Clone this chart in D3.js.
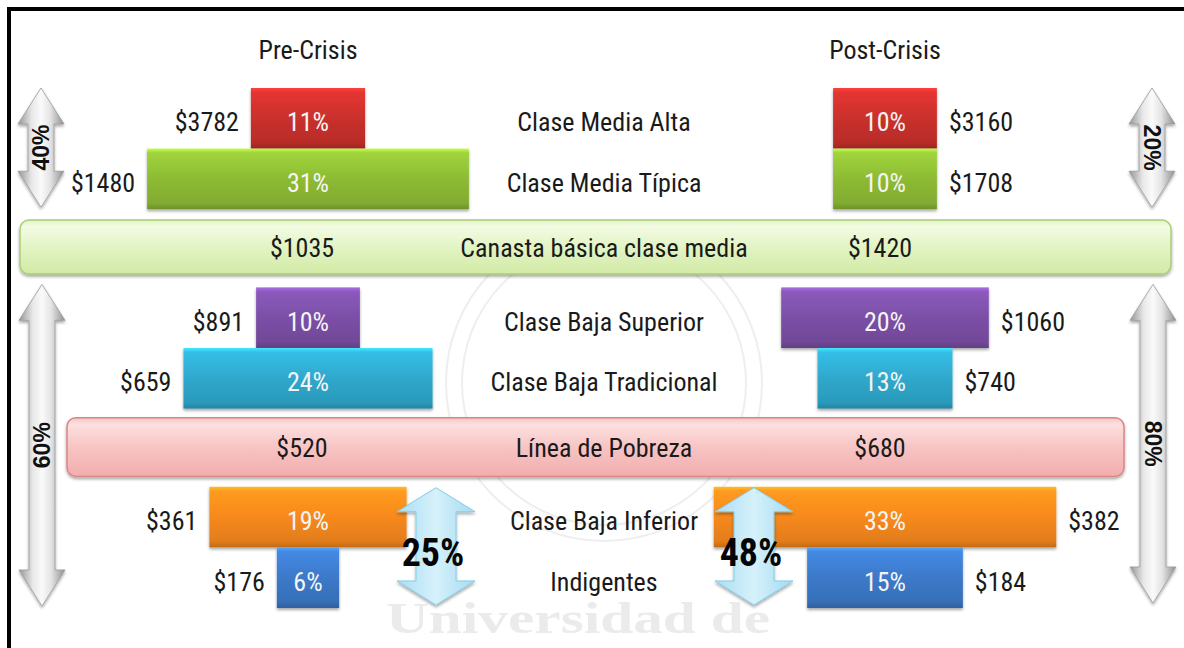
<!DOCTYPE html>
<html><head><meta charset="utf-8">
<script src="https://cdn.jsdelivr.net/npm/d3@7"></script>
<style>
html,body{margin:0;padding:0;background:#fff;}
svg{display:block;}
</style></head>
<body>
<svg id="chart" width="1184" height="648"></svg>
<script>
// ---------------- data ----------------
const categories   = ["Clase Media Alta","Clase Media Típica","Clase Baja Superior","Clase Baja Tradicional","Clase Baja Inferior","Indigentes"];
const prePct       = [11, 31, 10, 24, 19, 6];
const postPct      = [10, 10, 20, 13, 33, 15];
const preIncome    = [3782, 1480, 891, 659, 361, 176];
const postIncome   = [3160, 1708, 1060, 740, 382, 184];
const thresholds   = ["Canasta básica clase media", "Línea de Pobreza"];
const preThreshold = [1035, 520];
const postThreshold= [1420, 680];
const periods      = ["Pre-Crisis", "Post-Crisis"];
const preGroups    = [40, 60];   // upper / lower
const postGroups   = [20, 80];
const belowPoverty = [25, 48];   // pre / post
const watermark    = "Universidad de";

// ---------------- layout ----------------
const W = 1184, H = 648;
const FONT = "'Liberation Sans Narrow','Arial Narrow','Roboto Condensed',sans-serif";
const colors = ["#c9302c", "#8dbb34", "#7b4fa6", "#2fa8cc", "#f7891c", "#3c79c9"];
const rowSlot = [0, 1, 3.29, 4.29, 6.58, 7.58];
const bandSlot = [[2.18, 3.07], [5.44, 6.41]];
const bandX = [[20, 1171], [67, 1124]];
const bandFill = [["#f3fbe3", "#e2f4c4", "#d2eaa6"], ["#fde0e0", "#f8c4c4", "#f2adad"]];
const bandStroke = ["#a9cd78", "#d78686"];

const svg = d3.select("#chart");
const defs = svg.append("defs");

const y = d3.scaleLinear().domain([0, 1]).range([88, 148.6]);
const rowH = y(1) - y(0);
const w = d3.scaleLinear().domain([0, 1]).range([0, 10.38]);
const cx = d3.scaleOrdinal().domain(periods).range([308, 885]);
const midX = 604;

// border
svg.append("rect").attr("x", 7).attr("y", 7).attr("width", W - 7).attr("height", 4).attr("fill", "#000");
svg.append("rect").attr("x", 7).attr("y", 7).attr("width", 4).attr("height", H - 7).attr("fill", "#000");

// shadow filter
const f = defs.append("filter").attr("id", "sh").attr("x", "-10%").attr("y", "-10%").attr("width", "120%").attr("height", "140%");
f.append("feDropShadow").attr("dx", 0).attr("dy", 2).attr("stdDeviation", 1.5).attr("flood-color", "#000").attr("flood-opacity", 0.35);

// watermark
const wm = svg.append("g").attr("fill", "none").attr("stroke", "#eeeeee").attr("stroke-width", 2);
wm.append("circle").attr("cx", midX).attr("cy", 383).attr("r", 158);
wm.append("circle").attr("cx", midX).attr("cy", 383).attr("r", 142);
svg.append("text").attr("x", 386).attr("y", 633).attr("textLength", 384).attr("lengthAdjust", "spacingAndGlyphs")
  .attr("font-family", "'Liberation Serif','DejaVu Serif',serif").attr("font-weight", "bold").attr("font-size", 44)
  .attr("fill", "#ebebeb").text(watermark);

// gradients for bars
colors.forEach((c, i) => {
  const g = defs.append("linearGradient").attr("id", "bar" + i).attr("x1", 0).attr("x2", 0).attr("y1", 0).attr("y2", 1);
  const base = d3.color(c);
  [[0, base.brighter(0.9)], [0.07, base.brighter(0.35)], [0.5, base], [0.9, base.darker(0.25)], [1, base.darker(0.7)]]
    .forEach(([o, col]) => g.append("stop").attr("offset", o).attr("stop-color", col.formatHex()));
});
bandFill.forEach((cs, i) => {
  const g = defs.append("linearGradient").attr("id", "band" + i).attr("x1", 0).attr("x2", 0).attr("y1", 0).attr("y2", 1);
  g.append("stop").attr("offset", 0).attr("stop-color", cs[1]);
  g.append("stop").attr("offset", 0.12).attr("stop-color", cs[0]);
  g.append("stop").attr("offset", 0.5).attr("stop-color", cs[1]);
  g.append("stop").attr("offset", 1).attr("stop-color", cs[2]);
});
const gg = defs.append("linearGradient").attr("id", "grayArrow").attr("x1", 0).attr("x2", 1).attr("y1", 0).attr("y2", 0);
[[0, "#959595"], [0.3, "#e8e8e8"], [0.5, "#fafafa"], [0.7, "#e4e4e4"], [1, "#8f8f8f"]]
  .forEach(([o, c]) => gg.append("stop").attr("offset", o).attr("stop-color", c));
const bg = defs.append("linearGradient").attr("id", "blueArrow").attr("x1", 0).attr("x2", 1).attr("y1", 0).attr("y2", 0);
[[0, "#a9def3"], [0.5, "#d6f1fb"], [1, "#a3dbf1"]]
  .forEach(([o, c]) => bg.append("stop").attr("offset", o).attr("stop-color", c));

// headers
svg.selectAll("text.hdr").data(periods).join("text").attr("class", "hdr")
  .attr("x", d => cx(d)).attr("y", 59).attr("text-anchor", "middle")
  .attr("font-family", FONT).attr("font-size", 26).attr("fill", "#1a1a1a").text(d => d);

// threshold bands
const bands = svg.selectAll("g.band").data(thresholds).join("g").attr("class", "band");
bands.append("rect")
  .attr("x", (d, i) => bandX[i][0]).attr("width", (d, i) => bandX[i][1] - bandX[i][0])
  .attr("y", (d, i) => y(bandSlot[i][0])).attr("height", (d, i) => y(bandSlot[i][1]) - y(bandSlot[i][0]))
  .attr("rx", 9).attr("fill", (d, i) => `url(#band${i})`).attr("stroke", (d, i) => bandStroke[i]).attr("stroke-width", 1.5)
  .attr("filter", "url(#sh)");
const bandMid = i => (y(bandSlot[i][0]) + y(bandSlot[i][1])) / 2 + 10;
bands.append("text").attr("x", midX).attr("y", (d, i) => bandMid(i)).attr("text-anchor", "middle")
  .attr("font-family", FONT).attr("font-size", 26).attr("fill", "#1a1a1a").text(d => d);
bands.append("text").attr("x", cx(periods[0]) - 6).attr("y", (d, i) => bandMid(i)).attr("text-anchor", "middle")
  .attr("font-family", FONT).attr("font-size", 26).attr("fill", "#1a1a1a").text((d, i) => "$" + preThreshold[i]);
bands.append("text").attr("x", cx(periods[1]) - 5).attr("y", (d, i) => bandMid(i)).attr("text-anchor", "middle")
  .attr("font-family", FONT).attr("font-size", 26).attr("fill", "#1a1a1a").text((d, i) => "$" + postThreshold[i]);

// category labels
svg.selectAll("text.cat").data(categories).join("text").attr("class", "cat")
  .attr("x", midX).attr("y", (d, i) => y(rowSlot[i]) + rowH / 2 + 13).attr("text-anchor", "middle")
  .attr("font-family", FONT).attr("font-size", 26).attr("fill", "#1a1a1a").text(d => d);

// bars
function drawSide(pcts, incomes, period, side) {
  const c = cx(period);
  const g = svg.append("g");
  const rows = categories.map((cat, i) => ({ cat, i, p: pcts[i], v: incomes[i] }));
  g.selectAll("rect").data(rows).join("rect")
    .attr("x", d => c - w(d.p) / 2).attr("width", d => w(d.p))
    .attr("y", d => y(rowSlot[d.i])).attr("height", rowH)
    .attr("fill", d => `url(#bar${d.i})`).attr("filter", "url(#sh)");
  g.selectAll("text.pct").data(rows).join("text").attr("class", "pct")
    .attr("x", c).attr("y", d => y(rowSlot[d.i]) + rowH / 2 + 13).attr("text-anchor", "middle")
    .attr("font-family", FONT).attr("font-size", 26).attr("fill", "#f4f4f4").text(d => d.p + "%");
  g.selectAll("text.val").data(rows).join("text").attr("class", "val")
    .attr("x", d => side < 0 ? c - w(d.p) / 2 - 12 : c + w(d.p) / 2 + 12)
    .attr("y", d => y(rowSlot[d.i]) + rowH / 2 + 13)
    .attr("text-anchor", side < 0 ? "end" : "start")
    .attr("font-family", FONT).attr("font-size", 26).attr("fill", "#1a1a1a").text(d => "$" + d.v);
}
drawSide(prePct, preIncome, periods[0], -1);
drawSide(postPct, postIncome, periods[1], 1);

// double arrow path
function dblArrow(x, y0, y1, headW, bodyW, headL) {
  const hw = headW / 2, bw = bodyW / 2;
  return `M${x},${y0} L${x + hw},${y0 + headL} L${x + bw},${y0 + headL} L${x + bw},${y1 - headL} L${x + hw},${y1 - headL} L${x},${y1} L${x - hw},${y1 - headL} L${x - bw},${y1 - headL} L${x - bw},${y0 + headL} L${x - hw},${y0 + headL} Z`;
}

// gray share arrows
const shareArrows = [
  { v: preGroups[0],  x: 41,   a: y(rowSlot[0]),        b: y(rowSlot[1] + 1) - 2, rot: -90 },
  { v: preGroups[1],  x: 42,   a: y(rowSlot[2]) - 3,    b: y(rowSlot[5] + 1) - 2, rot: -90 },
  { v: postGroups[0], x: 1152, a: y(rowSlot[0]),        b: y(rowSlot[1] + 1) - 2, rot: 90 },
  { v: postGroups[1], x: 1153, a: y(rowSlot[2]) - 3,    b: y(rowSlot[5] + 1) - 5, rot: 90 }
];
const sa = svg.selectAll("g.share").data(shareArrows).join("g").attr("class", "share");
sa.append("path").attr("d", d => dblArrow(d.x, d.a, d.b, 46, 26, 36))
  .attr("fill", "url(#grayArrow)").attr("stroke", "#9a9a9a").attr("stroke-width", 0.8).attr("filter", "url(#sh)");
sa.append("text")
  .attr("transform", d => `translate(${d.x},${(d.a + d.b) / 2}) rotate(${d.rot})`)
  .attr("text-anchor", "middle").attr("dy", "0.36em")
  .attr("font-family", "'Liberation Sans',Arial,sans-serif").attr("font-weight", "bold").attr("font-size", 23)
  .attr("fill", "#111").text(d => d.v + "%");

// light-blue poverty arrows
const povArrows = belowPoverty.map((v, i) => ({ v, x: i === 0 ? 436 : 754 }));
const pa = svg.selectAll("g.pov").data(povArrows).join("g").attr("class", "pov");
pa.append("path").attr("d", d => dblArrow(d.x, y(rowSlot[4]) + 1, y(rowSlot[5] + 1) - 3, 78, 40, 24))
  .attr("fill", "url(#blueArrow)").attr("stroke", "#86cde6").attr("stroke-width", 1).attr("filter", "url(#sh)");
pa.append("text").attr("x", d => d.x - 3).attr("y", y(rowSlot[5]) + 19).attr("text-anchor", "middle")
  .attr("font-family", FONT).attr("font-weight", "bold").attr("font-size", 38).attr("fill", "#050505")
  .text(d => d.v + "%");
</script>
</body></html>
